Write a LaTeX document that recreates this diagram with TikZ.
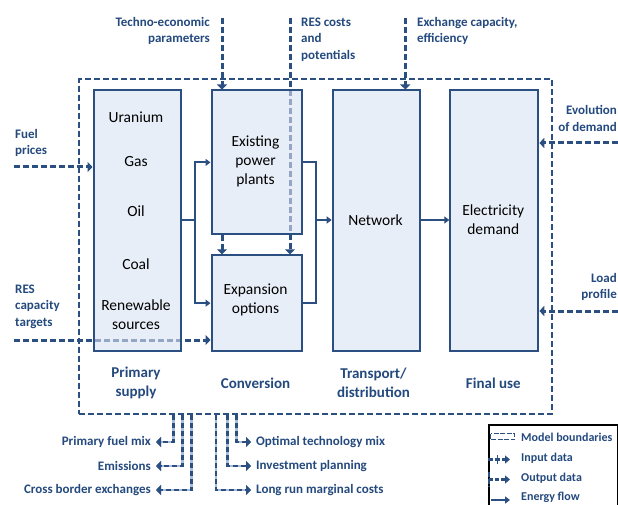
\documentclass[tikz,border=0pt]{standalone}
\usepackage{fontspec}
\setmainfont{Carlito}
\usetikzlibrary{arrows.meta}

\definecolor{navy}{HTML}{2B4F81}
\definecolor{labelblue}{HTML}{23497D}
\definecolor{boxfill}{HTML}{D9E3F2}
\definecolor{paleline}{HTML}{A9BCD8}

\tikzset{
  blockbox/.style={draw=navy, line width=2pt, fill=boxfill, fill opacity=0.6,
    draw opacity=1, inner sep=0pt, anchor=north west},
  boundary/.style={draw=navy, line width=2.2pt, dash pattern=on 6pt off 3pt,
    inner sep=0pt, anchor=north west},
  boxtext/.style={font=\fontsize{15.5}{19}\selectfont, text=black, align=center, inner sep=0pt},
  stagetext/.style={font=\fontsize{15}{19}\selectfont\bfseries, text=labelblue, align=center, inner sep=0pt},
  infotext/.style={font=\fontsize{13}{16.5}\selectfont\bfseries, text=labelblue, inner sep=0pt},
  legendtext/.style={font=\fontsize{12}{14}\selectfont\bfseries, text=labelblue, inner sep=0pt, anchor=west},
  energy/.style={draw=navy, line width=2pt},
  energyarrow/.style={energy, -{Triangle[length=5pt,width=7pt]}},
  inputdata/.style={draw=navy, line width=3pt, dash pattern=on 6pt off 3pt,
    -{Triangle[length=5pt,width=10pt]}},
  outputdata/.style={preaction={draw=paleline, line width=2.6pt, solid},
    draw=navy, line width=2.6pt, dash pattern=on 5pt off 3pt,
    -{Triangle[length=5pt,width=10pt]}},
}

\begin{document}
\begin{tikzpicture}[x=1pt, y=-1pt]
\useasboundingbox (0,0) rectangle (618,505);
\clip (0,0) rectangle (618,505);

% input data arriving from outside the model
\coordinate (techTop) at (222,18);
\coordinate (resTop)  at (290,18);
\coordinate (exchTop) at (405.3,18);
\coordinate (fuelIn)  at (14,167);
\coordinate (resCapIn) at (14,340);
\coordinate (evoIn)   at (618,143);
\coordinate (loadIn)  at (618,311);

% model boundary
\node[boundary, minimum width=472.7pt, minimum height=335pt] (bound) at (78,78) {};

% lines that run underneath the translucent blocks
\draw[inputdata] (resTop) -- (resTop |- 0,254.3);
\draw[inputdata] (resCapIn) -- (210.5,340);

% blocks
\node[blockbox, minimum width=87pt,   minimum height=260.5pt] (prim)  at (92.5,89.5) {};
\node[blockbox, minimum width=90.5pt, minimum height=143.8pt] (exist) at (210.5,89.5) {};
\node[blockbox, minimum width=90.5pt, minimum height=95.7pt]  (expan) at (210.5,254.3) {};
\node[blockbox, minimum width=87.6pt, minimum height=260.5pt] (net)   at (331.7,89.5) {};
\node[blockbox, minimum width=88pt,   minimum height=260.5pt] (dem)   at (449.3,89.5) {};

% block contents
\node[boxtext] (uran) at (136,117) {Uranium};
\node[boxtext] (gas)  at (136,162) {Gas};
\node[boxtext] (oil)  at (136,211) {Oil};
\node[boxtext] (coal) at (136,264) {Coal};
\node[boxtext] (renew) at (136,314.5) {Renewable\\sources};
\node[boxtext] (existT) at (255.5,161) {Existing\\power\\plants};
\node[boxtext] (expanT) at (255.5,299.5) {Expansion\\options};
\node[boxtext] (netT) at (375.5,220) {Network};
\node[boxtext] (demT) at (493.3,219.5) {Electricity\\demand};

% stage captions
\node[stagetext] (capPrim)  at (136,382.5) {Primary\\supply};
\node[stagetext] (capConv)  at (255.5,383) {Conversion};
\node[stagetext] (capTrans) at (373.5,382.5) {Transport/\\distribution};
\node[stagetext] (capFinal) at (493.3,383) {Final use};

% energy flows
\coordinate (jL) at (195,220);
\coordinate (jR) at (316,220);
\draw[energy] (prim.east |- jL) -- (jL);
\draw[energyarrow] (jL) |- (exist.west);
\draw[energyarrow] (jL) |- (expan.west);
\draw[energy] (exist.east) -| (jR);
\draw[energy] (expan.east) -| (jR);
\draw[energyarrow] (jR) -- (net.west |- jR);
\draw[energyarrow] (net.east |- jR) -- (dem.west |- jR);

% input data
\draw[inputdata] (techTop) -- (techTop |- exist.north);
\draw[inputdata] (techTop |- exist.south) -- (techTop |- expan.north);
\draw[inputdata] (exchTop) -- (exchTop |- net.north);
\draw[inputdata] (fuelIn) -- (prim.west |- fuelIn);
\draw[inputdata] (evoIn) -- (dem.east |- evoIn);
\draw[inputdata] (loadIn) -- (dem.east |- loadIn);

\node[infotext, align=right, anchor=east] (techL) at (210,31) {Techno-economic\\parameters};
\node[infotext, align=left, anchor=west] (resL) at (301,39.5) {RES costs\\and\\potentials};
\node[infotext, align=left, anchor=west] (exchL) at (417,31) {Exchange capacity,\\efficiency};
\node[infotext, align=left, anchor=west] (fuelL) at (15,143) {Fuel\\prices};
\node[infotext, align=left, anchor=west] (resCapL) at (15,306.5) {RES\\capacity\\targets};
\node[infotext, align=right, anchor=east] (evoL) at (617,118.5) {Evolution\\of demand};
\node[infotext, align=right, anchor=east] (loadL) at (617,287) {Load\\profile};

% outputs
\node[infotext, anchor=east] (outFuel) at (151,442) {Primary fuel mix};
\node[infotext, anchor=east] (outEmis) at (151,466) {Emissions};
\node[infotext, anchor=east] (outCross) at (151,490) {Cross border exchanges};
\node[infotext, anchor=west] (outTech) at (256,442) {Optimal technology mix};
\node[infotext, anchor=west] (outInv)  at (256,466) {Investment planning};
\node[infotext, anchor=west] (outLrmc) at (256,490) {Long run marginal costs};

\draw[outputdata] (bound.south -| 173.3,0) |- ([xshift=5pt]outFuel.east);
\draw[outputdata] (bound.south -| 182.3,0) |- ([xshift=5pt]outEmis.east);
\draw[outputdata] (bound.south -| 191.7,0) |- ([xshift=5pt]outCross.east);
\draw[outputdata] (bound.south -| 236.7,0) |- ([xshift=-5pt]outTech.west);
\draw[outputdata] (bound.south -| 227.3,0) |- ([xshift=-5pt]outInv.west);
\draw[outputdata] (bound.south -| 216,0)   |- ([xshift=-5pt]outLrmc.west);

% legend
\draw[black, line width=1.2pt] (489,510) |- (617.3,425) -- (617.3,510);
\draw[navy, line width=1.5pt, dash pattern=on 5pt off 1.5pt] (490.5,433.5) rectangle (514.5,439.5);
\node[legendtext] (lgBound) at (521,437) {Model boundaries};
\draw[navy, line width=2.4pt, dash pattern=on 5pt off 2pt, -{Triangle[length=5pt,width=8pt]}] (488,459.5) -- (510,459.5);
\draw[navy, line width=1.8pt] (497.5,455) -- (497.5,464);
\node[legendtext] (lgIn) at (521,458) {Input data};
\draw[navy, line width=2.4pt, dash pattern=on 5pt off 2pt] (489,472) -- (489,487);
\draw[navy, line width=2.4pt, dash pattern=on 4pt off 2pt, -{Triangle[length=5pt,width=8pt]}] (489,479.5) -- (510,479.5);
\node[legendtext] (lgOut) at (521,478) {Output data};
\draw[energyarrow] (491,500) -- (510,500);
\node[legendtext] (lgFlow) at (521,497.5) {Energy flow};
\end{tikzpicture}
\end{document}
